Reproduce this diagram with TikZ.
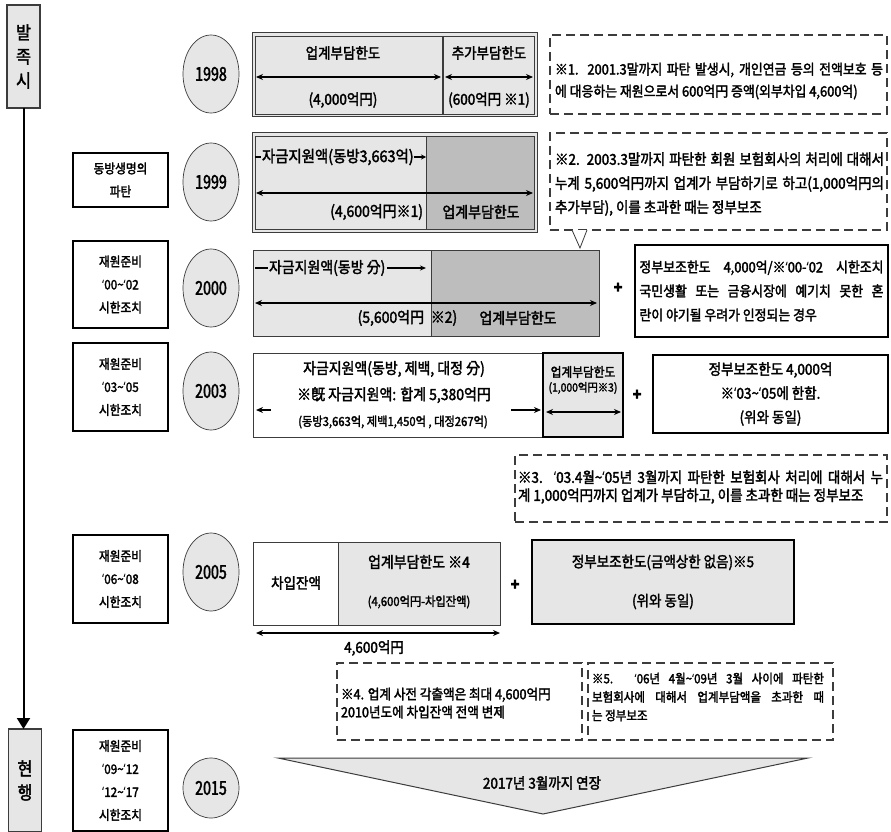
\documentclass[tikz,border=0pt]{standalone}
\usepackage{fontspec}
\setmainfont{Noto Sans CJK KR}[FakeStretch=0.9,FakeBold=2.2]
\newfontfamily\yrf{Noto Sans CJK KR}[FakeStretch=0.75,FakeBold=2.2]
\newfontfamily\latf{Noto Sans}[FakeStretch=0.9]
\newcommand{\q}{{\latf ‘}}
\usetikzlibrary{arrows.meta,shapes.geometric}
\definecolor{lg}{HTML}{E6E6E6}
\definecolor{dg}{HTML}{BDBDBD}
\definecolor{ln}{HTML}{3C3C3C}
\tikzset{
  fz/.style={font=\fontsize{#1}{#1}\selectfont},
  sidebox/.style={draw=ln,fill=lg,line width=1.2pt,minimum width=33pt,minimum height=103pt,align=center,font=\fontsize{18}{24}\selectfont},
  lbox/.style={draw=black,line width=1.3pt,fill=white,minimum width=95pt,align=center,font=\fontsize{13}{23}\selectfont},
  yr/.style={ellipse,draw=ln,fill=lg,line width=0.7pt,minimum width=56pt,minimum height=78pt,font=\yrf\fontsize{19}{19}\selectfont},
  dim/.style={line width=1.8pt,{Stealth[length=7pt,width=6pt]}-{Stealth[length=7pt,width=6pt]}},
  sarr/.style={line width=1.8pt,-{Stealth[length=7pt,width=6pt]}},
  tarr/.style={line width=1.1pt,-{Stealth[length=6pt,width=5pt]}},
  note/.style={draw=ln,line width=1.5pt,dash pattern=on 9pt off 5pt},
  ntext/.style={align=left,anchor=west},
  gbox/.style={draw=black,line width=1.6pt},
  plus/.style={font=\fontsize{16}{16}\selectfont\bfseries},
}
\newcommand{\jl}[2]{\makebox[#1][s]{#2}}
\begin{document}
\begin{tikzpicture}[x=1pt,y=-1pt,every node/.style={inner sep=0pt,outer sep=0pt}]
\useasboundingbox[fill=white] (0,0) rectangle (891,832);
% ---------- timeline ----------
\node[sidebox] (bal) at (23.5,56.5) {발\\족\\시};
\node[sidebox] (cur) at (25,780.5) {현\\행};
\draw[line width=2pt,-{Triangle[length=11pt,width=13pt]}] (bal.south) -- (bal.south |- cur.north);
% ---------- left boxes ----------
\node[lbox,minimum height=54pt] (l99) at (120.5,180) {동방생명의\\파탄};
\node[lbox,minimum height=87pt] (l00) at (120.5,284.5) {재원준비\\\q00\textasciitilde\q02\\시한조치};
\node[lbox,minimum height=88pt] (l03) at (120.5,387) {재원준비\\\q03\textasciitilde\q05\\시한조치};
\node[lbox,minimum height=88pt] (l05) at (120.5,579) {재원준비\\\q06\textasciitilde\q08\\시한조치};
\node[lbox,minimum height=101pt] (l15) at (120.5,780.5) {재원준비\\\q09\textasciitilde\q12\\\q12\textasciitilde\q17\\시한조치};
% ---------- years ----------
\node[yr] (y98) at (211,74) {1998};
\node[yr] (y99) at (211,182) {1999};
\node[yr] (y00) at (211,288) {2000};
\node[yr] (y03) at (211,391) {2003};
\node[yr] (y05) at (211,572) {2005};
\node[yr,minimum height=60pt] (y15) at (211,788) {2015};
% ---------- 1998 ----------
\node[draw=ln,line width=1pt,fill=lg,minimum width=285pt,minimum height=84pt] (b98) at (394.5,75) {};
\draw[ln,line width=0.8pt] (255,36) rectangle (534,114);
\draw[ln,line width=1.2pt] (443,36) -- (443,114);
\node[fz=15] (a1) at (343,53) {업계부담한도};
\node[fz=15] (a2) at (489,53) {추가부담한도};
\node[fz=15] (a3) at (343,100) {(4,000억円)};
\node[fz=15] (a4) at (489,100) {(600억円 ※1)};
\coordinate (d1a) at (256,77); \coordinate (d1b) at (441,77);
\coordinate (d1c) at (445,77); \coordinate (d1d) at (533,77);
\draw[dim] (d1a) -- (d1b);
\draw[dim] (d1c) -- (d1d);
% ---------- 1999 ----------
\node[draw=ln,line width=1pt,fill=lg,minimum width=285pt,minimum height=99pt] (b99) at (394.5,182.5) {};
\fill[dg] (426,136) rectangle (534,229);
\draw[ln,line width=0.8pt] (255,136) rectangle (534,229);
\draw[ln,line width=1pt] (426,136) -- (426,229);
\coordinate (c1s) at (255,157); \coordinate (c1t) at (261,157);
\draw[line width=1.2pt] (c1s) -- (c1t);
\node[fz=16,anchor=west] (c1) at (262,157) {자금지원액(동방3,663억)};
\coordinate (c1e) at (426,157);
\draw[line width=1.1pt,-{Stealth[length=5pt,width=5pt]}] (c1.east) -- (c1e);
\coordinate (d2a) at (256,193); \coordinate (d2b) at (533,193);
\draw[dim] (d2a) -- (d2b);
\node[fz=15.5,anchor=east] (c2) at (423,212) {(4,600억円※1)};
\node[fz=15.5] (c3) at (481,212) {업계부담한도};
% ---------- 2000 ----------
\node[draw=ln,line width=1pt,fill=lg,minimum width=346pt,minimum height=86pt] (b00) at (426,293) {};
\fill[dg] (431,250.5) rectangle (598.5,335.5);
\draw[ln,line width=1pt] (b00.north west) rectangle (b00.south east);
\draw[ln,line width=0.8pt] (431,250) -- (431,336);
\coordinate (e1s) at (255,268); \coordinate (e1t) at (268,268);
\draw[line width=1.1pt] (e1s) -- (e1t);
\node[fz=15.5,anchor=west] (e1) at (269,268) {자금지원액(동방 分)};
\coordinate (e1e) at (426,268);
\draw[tarr] ([xshift=2pt]e1.east) -- (e1e);
\coordinate (d3a) at (255,303); \coordinate (d3b) at (597,303);
\draw[dim] (d3a) -- (d3b);
\node[fz=15.5,anchor=east] (e2) at (424,318) {(5,600억円};
\node[fz=15.5] (e3) at (444,318) {※2)};
\node[fz=15.5] (e4) at (518,318) {업계부담한도};
\node[plus] (p1) at (618,288) {+};
\node[gbox,fill=white,minimum width=253pt,minimum height=92pt,align=left,font=\fontsize{14.3}{24}\selectfont] (g1) at (761.5,291)
 {\jl{244pt}{정부보조한도 4,000억/※\q00-\q02 시한조치}\\\jl{244pt}{국민생활 또는 금융시장에 예기치 못한 혼}\\란이 야기될 우려가 인정되는 경우};
% ---------- 2003 ----------
\node[draw=ln,line width=1pt,fill=white,minimum width=290pt,minimum height=84pt] (b03) at (398,395) {};
\node[gbox,fill=lg,minimum width=80pt,minimum height=84pt] (b03r) at (583,395) {};
\node[fz=15.5] (f1) at (394,369) {자금지원액(동방, 제백, 대정 分)};
\node[fz=15.5] (f2) at (394,395) {※旣 자금지원액: 합계 5,380억円};
\node[fz=12.5] (f3) at (393,422) {(동방3,663억, 제백1,450억 , 대정267억)};
\coordinate (f4a) at (271,410); \coordinate (f4b) at (256,410);
\draw[sarr] (f4a) -- (f4b);
\coordinate (f5a) at (511,410); \coordinate (f5b) at (541,410);
\draw[sarr] (f5a) -- (f5b);
\node[fz=13] (f6) at (583,372) {업계부담한도};
\node[fz=11.5] (f7) at (583,388) {(1,000억円※3)};
\coordinate (d4a) at (546,412); \coordinate (d4b) at (621,412);
\draw[dim] (d4a) -- (d4b);
\node[plus] (p2) at (637,395) {+};
\node[gbox,fill=white,minimum width=235pt,minimum height=78pt,align=center,font=\fontsize{15}{24}\selectfont] (g2) at (770.5,394)
 {정부보조한도 4,000억\\※\q03\textasciitilde\q05에 한함.\\(위와 동일)};
% ---------- note 3 ----------
\node[note,minimum width=372pt,minimum height=67pt] (n3) at (701,488.5) {};
\node[ntext,font=\fontsize{15}{18}\selectfont] (n3t) at (518,487)
 {\jl{365pt}{※3. \q03.4월\textasciitilde\q05년 3월까지 파탄한 보험회사 처리에 대해서 누}\\계 1,000억円까지 업계가 부담하고, 이를 초과한 때는 정부보조};
% ---------- 2005 ----------
\node[draw=ln,line width=1pt,fill=white,minimum width=247pt,minimum height=83pt] (b05) at (376.5,583.5) {};
\fill[lg] (338,542.5) rectangle (499.5,624.5);
\draw[ln,line width=1pt] (b05.north west) rectangle (b05.south east);
\draw[ln,line width=1pt] (338,542) -- (338,625);
\node[fz=15] (h1) at (296,583) {차입잔액};
\node[fz=15.5] (h2) at (419,562) {업계부담한도 ※4};
\node[fz=12.5] (h3) at (419,602) {(4,600억円-차입잔액)};
\coordinate (d5a) at (256,633); \coordinate (d5b) at (500,633);
\draw[dim] (d5a) -- (d5b);
\node[fz=15] (h4) at (374,648) {4,600억円};
\node[plus] (p3) at (515,585) {+};
\node[gbox,fill=lg,minimum width=262pt,minimum height=84pt,align=center,font=\fontsize{15}{39}\selectfont] (g3) at (663,582)
 {정부보조한도(금액상한 없음)※5\\(위와 동일)};
% ---------- notes 1,2 ----------
\node[note,minimum width=337pt,minimum height=79pt] (n1) at (718.5,74.5) {};
\node[ntext,font=\fontsize{14.3}{22}\selectfont] (n1t) at (555,81)
 {\jl{328pt}{※1. 2001.3말까지 파탄 발생시, 개인연금 등의 전액보호 등}\\에 대응하는 재원으로서 600억円 증액(외부차입 4,600억)};
\node[note,minimum width=337pt,minimum height=97pt] (n2) at (718.5,181.5) {};
\node[ntext,font=\fontsize{15}{24}\selectfont] (n2t) at (555,184)
 {\jl{329pt}{※2. 2003.3말까지 파탄한 회원 보험회사의 처리에 대해서}\\\jl{329pt}{누계 5,600억円까지 업계가 부담하기로 하고(1,000억円의}\\추가부담), 이를 초과한 때는 정부보조};
\coordinate (v1) at (572,230); \coordinate (v2) at (580,248); \coordinate (v3) at (587,230);
\draw[ln,fill=white,line width=0.8pt] (v1) -- (v2) -- (v3);
% ---------- notes 4,5 ----------
\node[note,minimum width=245pt,minimum height=77pt] (n4) at (459.5,701.5) {};
\node[ntext,font=\fontsize{14}{18}\selectfont] (n4t) at (341,703)
 {※4. 업계 사전 각출액은 최대 4,600억円\\2010년도에 차입잔액 전액 변제};
\node[note,minimum width=245pt,minimum height=77pt] (n5) at (710.5,701.5) {};
\node[ntext,font=\fontsize{12.8}{18.5}\selectfont] (n5t) at (592,697)
 {\jl{232pt}{※5. \q06년 4월\textasciitilde\q09년 3월 사이에 파탄한}\\\jl{232pt}{보험회사에 대해서 업계부담액을 초과한 때}\\는 정부보조};
% ---------- 2015 ----------
\draw[ln,fill=lg,line width=1pt] (278,758) -- (808,758) -- (543,814) -- cycle;
\node[fz=15] (k1) at (542,783) {2017년 3월까지 연장};
\end{tikzpicture}
\end{document}
